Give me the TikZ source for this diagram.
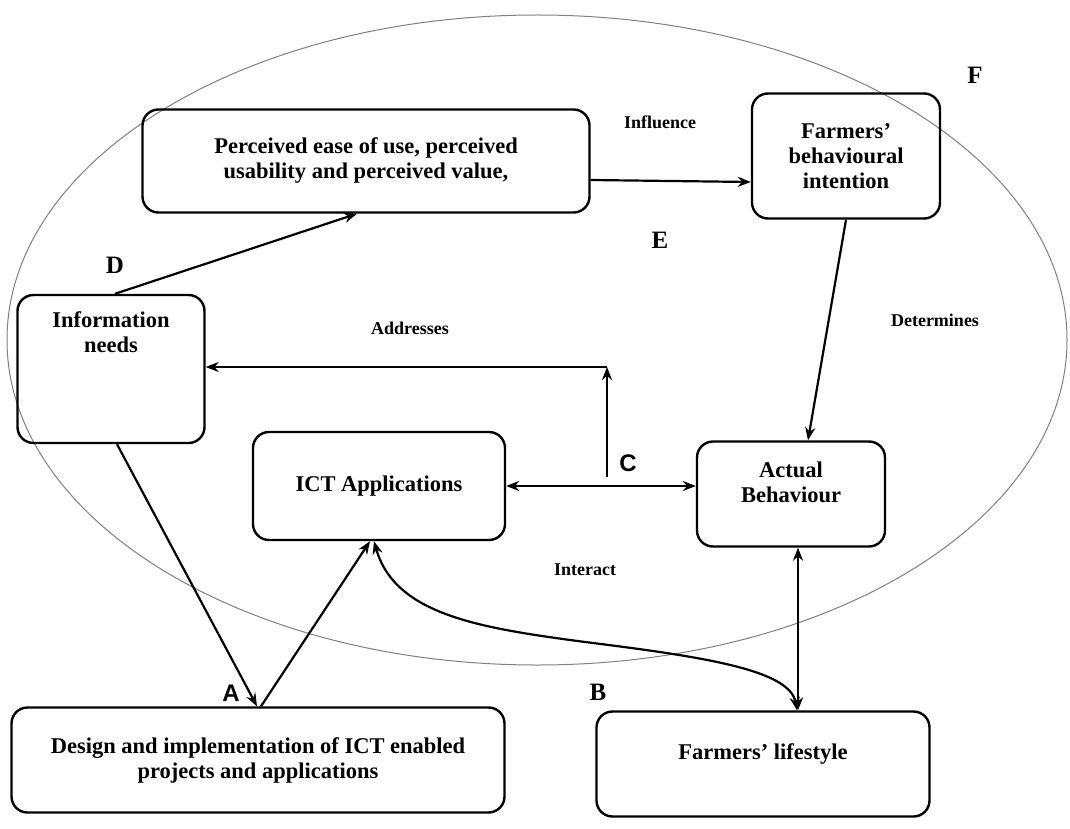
\documentclass[tikz,border=0pt]{standalone}
\usepackage{fontspec}
\setmainfont{Liberation Serif}
\newfontfamily\lettersans{Liberation Sans}
\usepackage{tikz}
\usetikzlibrary{shapes}
\usetikzlibrary{arrows.meta}
\tikzset{
	main node/.style={rectangle,draw,rounded corners=16pt,line width=2.4pt,align=center,font=\fontsize{22.5}{25}\selectfont\bfseries},
	inner text/.style={align=center,anchor=north,font=\fontsize{22.5}{25}\selectfont\bfseries},
	label node/.style={font=\fontsize{18}{21}\selectfont\bfseries},
	letter node/.style={font=\fontsize{25}{28}\selectfont\bfseries}
}
\begin{document}
\begin{tikzpicture}[x=1pt,y=-1pt,->,>={Stealth[length=13pt,width=10pt]},line width=2.2pt]
            \useasboundingbox (0,0) rectangle (1070,829);
            \fill[white] (0,0) rectangle (1070,829);
            \draw[-,gray,line width=1pt] (537,340) ellipse [x radius=530,y radius=325];
            % boxes
            \node [main node,minimum width=447pt,minimum height=103pt] (1) at (366,161) {Perceived ease of use, perceived\\usability and perceived value,};
            \node [main node,minimum width=188pt,minimum height=125pt] (2) at (846,156) {Farmers’\\behavioural\\intention};
            \node [main node,minimum width=187pt,minimum height=148pt,
                   label={[inner text,yshift=-13pt]north:{Information\\needs}}] (3) at (111,369) {};
            \node [main node,minimum width=252pt,minimum height=108pt] (4) at (379,486) {ICT Applications};
            \node [main node,minimum width=188pt,minimum height=105pt,
                   label={[inner text,yshift=-17pt]north:{Actual\\Behaviour}}] (5) at (791,494) {};
            \node [main node,minimum width=493pt,minimum height=105pt] (6) at (258,760) {Design and implementation of ICT enabled\\projects and applications};
            \node [main node,minimum width=333pt,minimum height=105pt,
                   label={[inner text,yshift=-29pt]north:{Farmers’ lifestyle}}] (7) at (763,764) {};
            % labels
            \node [letter node] (lF) at (975,75) {F};
            \node [label node] (lInf) at (660,122) {Influence};
            \node [letter node] (lE) at (660,240) {E};
            \node [letter node] (lD) at (115,265) {D};
            \node [label node] (lAdd) at (410,328) {Addresses};
            \node [label node] (lDet) at (935,320) {Determines};
            \node [letter node,font=\fontsize{24}{28}\selectfont\lettersans\bfseries] (lC) at (628,463) {C};
            \node [label node] (lInt) at (585,570) {Interact};
            \node [letter node,font=\fontsize{24}{28}\selectfont\lettersans\bfseries] (lA) at (231,693) {A};
            \node [letter node] (lB) at (598,692) {B};
            % connectors
            \draw ([yshift=-19pt]1.east) -- ([yshift=-26pt]2.west);
            \draw ([xshift=4pt]3.north) -- ([xshift=-9pt]1.south);
            \draw (2.south) -- ([xshift=17pt]5.north);
            \coordinate (c1) at (607,477);
            \coordinate (c2) at (607,367);
            \draw (c1) -- (c2);
            \draw (c2) -- (c2 -| 3.east);
            \draw [<->] (4.east) -- (4.east -| 5.west);
            \draw ([xshift=6pt]3.south) -- ([xshift=-1pt]6.north);
            \draw ([xshift=3pt]6.north) -- ([xshift=-9pt]4.south);
            \draw [<->] ([xshift=-5pt]4.south) .. controls (395,615) and (480,628) .. (585,642)
                        .. controls (705,657) and (790,670) .. ([xshift=34pt]7.north);
            \draw [<->] ([xshift=7pt]5.south) -- ([xshift=35pt]7.north);
\end{tikzpicture}
\end{document}
